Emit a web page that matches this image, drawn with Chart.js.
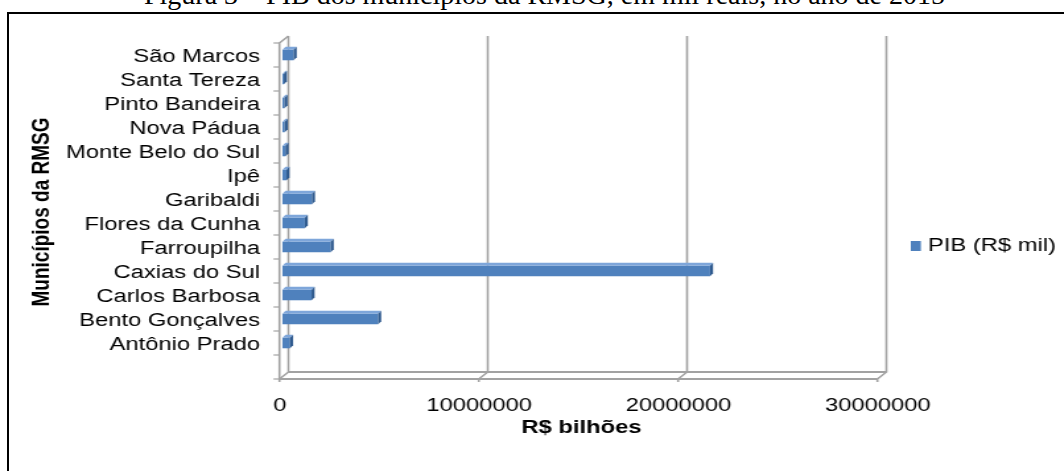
<!DOCTYPE html>
<html>
<head>
<meta charset="utf-8">
<script src="https://cdn.jsdelivr.net/npm/chart.js@4.4.1/dist/chart.umd.min.js"></script>
<style>
  html, body { margin: 0; padding: 0; background: #fff; overflow: hidden; }
  #page { position: relative; width: 1064px; height: 471px; overflow: hidden; }
  #caption {
    position: absolute; left: 0; top: -19px; width: 1089px; text-align: center;
    font-family: "Liberation Serif", "DejaVu Serif", serif; font-size: 28px; line-height: 28px;
    color: #000; white-space: nowrap;
  }
  #frame {
    position: absolute; left: 7px; top: 12px; width: 1100px; height: 500px;
    border-left: 2px solid #000; border-top: 2px solid #000;
  }
  /* the reference image is stretched sideways, so the chart is drawn narrow and scaled */
  #wrap { position: absolute; left: 0; top: 0; width: 806px; height: 471px; transform: scaleX(1.32); transform-origin: 0 0; }
</style>
</head>
<body>
<div id="page">
  <div id="caption">Figura 3 – PIB dos municípios da RMSG, em mil reais, no ano de 2015</div>
  <div id="frame"></div>
  <div id="wrap"><canvas id="pibChart" width="806" height="471"></canvas></div>
</div>
<script>
// data (R$ mil, 2015)
const municipios = [
  'Antônio Prado',
  'Bento Gonçalves',
  'Carlos Barbosa',
  'Caxias do Sul',
  'Farroupilha',
  'Flores da Cunha',
  'Garibaldi',
  'Ipê',
  'Monte Belo do Sul',
  'Nova Pádua',
  'Pinto Bandeira',
  'Santa Tereza',
  'São Marcos'
];
const pib = [380000, 4800000, 1460000, 21450000, 2420000, 1120000, 1480000, 200000, 150000, 110000, 100000, 70000, 560000];
const xTicks = [0, 10000000, 20000000, 30000000];
const seriesName = 'PIB (R$ mil)';
const xTitle = 'R$ bilhões';
const yTitle = 'Municípios da RMSG';

const BLUE = '#4F81BD';
const GRID = '#A2A2A2';
// 3D box offsets (front plane and back wall relative to the bar plane)
const FRONT = { dx: -2.3, dy: 0 };
const BACK = { dx: 4.5, dy: -7 };
const BAR_DEPTH = { dx: 2.3, dy: 3 };

const wallsPlugin = {
  id: 'walls',
  beforeDatasetsDraw(chart) {
    const { ctx, chartArea: a, scales: { x } } = chart;
    const slot = (a.bottom - a.top) / municipios.length;
    const topF = a.top + FRONT.dy;
    const floorF = a.bottom + FRONT.dy + slot;
    const topB = topF - (FRONT.dy - BACK.dy);
    const floorB = floorF - (FRONT.dy - BACK.dy);
    const fx = v => x.getPixelForValue(v) + FRONT.dx;
    const bx = v => x.getPixelForValue(v) + BACK.dx;

    ctx.save();
    ctx.strokeStyle = GRID;
    ctx.lineWidth = 1.6;

    // gridlines on back wall, running down to the front floor edge
    xTicks.forEach(v => {
      ctx.beginPath();
      ctx.moveTo(bx(v), topB);
      ctx.lineTo(bx(v), floorB);
      ctx.lineTo(fx(v), floorF);
      ctx.lineTo(fx(v), floorF + 3);
      ctx.stroke();
    });

    // left wall front edge + top slant
    ctx.beginPath();
    ctx.moveTo(bx(0), topB);
    ctx.lineTo(fx(0), topF);
    ctx.lineTo(fx(0), floorF);
    ctx.stroke();

    // category tick marks
    ctx.lineWidth = 1.2;
    for (let k = 0; k <= municipios.length + 1; k++) {
      const y = topF + k * slot;
      ctx.beginPath();
      ctx.moveTo(fx(0) - 4.5, y);
      ctx.lineTo(fx(0), y);
      ctx.stroke();
    }

    // floor edges
    ctx.lineWidth = 2;
    const last = xTicks[xTicks.length - 1];
    ctx.beginPath();
    ctx.moveTo(fx(0), floorF);
    ctx.lineTo(fx(last), floorF);
    ctx.moveTo(bx(0), floorB);
    ctx.lineTo(bx(last), floorB);
    ctx.stroke();
    ctx.restore();
  },
  afterDatasetsDraw(chart) {
    const { ctx } = chart;
    const meta = chart.getDatasetMeta(0);
    ctx.save();
    meta.data.forEach(bar => {
      const { x, y, base, height } = bar.getProps(['x', 'y', 'base', 'height'], true);
      const top = y - height / 2;
      const bottom = y + height / 2;
      const dx = BAR_DEPTH.dx, dy = BAR_DEPTH.dy;
      // top face
      ctx.fillStyle = '#7EA6DA';
      ctx.beginPath();
      ctx.moveTo(base, top);
      ctx.lineTo(x, top);
      ctx.lineTo(x + dx, top - dy);
      ctx.lineTo(base + dx, top - dy);
      ctx.closePath();
      ctx.fill();
      // side face
      ctx.fillStyle = '#2F5A8E';
      ctx.beginPath();
      ctx.moveTo(x, top);
      ctx.lineTo(x + dx, top - dy);
      ctx.lineTo(x + dx, bottom - dy);
      ctx.lineTo(x, bottom);
      ctx.closePath();
      ctx.fill();
    });
    ctx.restore();
  },
  afterDraw(chart) {
    const { ctx, chartArea: a } = chart;
    const slot = (a.bottom - a.top) / municipios.length;
    ctx.save();
    // y axis title, centred on the whole wall including the floor slot
    ctx.translate(31.5, (a.top + a.bottom + slot) / 2 + 1);
    ctx.rotate(-Math.PI / 2);
    ctx.font = 'bold 19px "Liberation Sans", Arial, sans-serif';
    ctx.fillStyle = '#000';
    ctx.textAlign = 'center';
    ctx.textBaseline = 'middle';
    ctx.fillText(yTitle, 0, 0);
    ctx.restore();

    // legend
    ctx.save();
    ctx.fillStyle = BLUE;
    ctx.fillRect(690, 241, 7.6, 10);
    ctx.fillStyle = '#000';
    ctx.font = '18px "Liberation Sans", Arial, sans-serif';
    ctx.textBaseline = 'middle';
    ctx.fillText(seriesName, 703, 246.5);
    ctx.restore();
  }
};

new Chart(document.getElementById('pibChart').getContext('2d'), {
  type: 'bar',
  data: {
    labels: municipios,
    datasets: [{
      label: seriesName,
      data: pib,
      backgroundColor: BLUE,
      borderWidth: 0,
      barPercentage: 0.44,
      categoryPercentage: 1
    }]
  },
  options: {
    indexAxis: 'y',
    responsive: false,
    animation: false,
    layout: { padding: { left: 0, top: 43, right: 139, bottom: 0 } },
    plugins: {
      legend: { display: false },
      tooltip: { enabled: false }
    },
    scales: {
      x: {
        type: 'linear',
        min: 0,
        max: 30000000,
        afterBuildTicks: scale => { scale.ticks = xTicks.map(v => ({ value: v })); },
        afterFit: scale => { scale.height = 116; },
        grid: { display: false, drawTicks: false },
        border: { display: false },
        ticks: {
          color: '#000',
          padding: 40,
          labelOffset: -2,
          maxRotation: 0,
          font: { family: '"Liberation Sans", Arial, sans-serif', size: 18 },
          callback: v => String(v)
        },
        title: {
          display: true,
          text: xTitle,
          color: '#000',
          padding: { top: 0, bottom: 32 },
          font: { family: '"Liberation Sans", Arial, sans-serif', size: 18, weight: 'bold' }
        }
      },
      y: {
        reverse: true,
        afterFit: scale => { scale.width = 214; },
        grid: { display: false, drawTicks: false },
        border: { display: false },
        ticks: {
          color: '#000',
          padding: 17,
          labelOffset: 2,
          autoSkip: false,
          font: { family: '"Liberation Sans", Arial, sans-serif', size: 18 }
        }
      }
    }
  },
  plugins: [wallsPlugin]
});
</script>
</body>
</html>
